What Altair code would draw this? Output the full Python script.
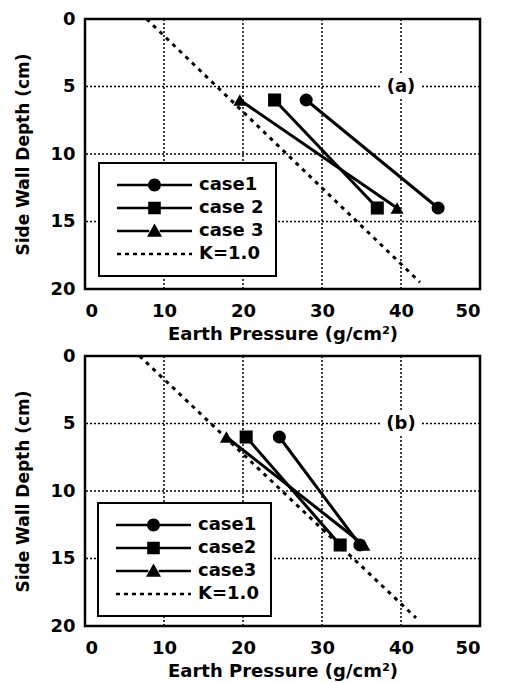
import altair as alt
import pandas as pd

# ---------------- data ----------------
depth_pts = [6, 14]

a_labels = ["case1", "case 2", "case 3"]
a_case1 = [28.0, 44.7]
a_case2 = [24.0, 37.0]
a_case3 = [19.6, 39.5]
a_k_pressure = [7.8, 42.4]
a_k_depth = [0, 19.5]

b_labels = ["case1", "case2", "case3"]
b_case1 = [24.6, 34.8]
b_case2 = [20.4, 32.3]
b_case3 = [17.9, 35.3]
b_k_pressure = [6.9, 41.9]
b_k_depth = [0, 19.4]

k_label = "K=1.0"
x_ticks = [0, 10, 20, 30, 40, 50]
y_ticks = [0, 5, 10, 15, 20]
tag_pos = (40, 5)

FONT = "DejaVu Sans"

# ---------------- legend symbol paths (line + marker) ----------------
W = 37.5  # half width of legend symbol in px


def u(v):
    return v / W


def rect(x0, x1, y0, y1):
    return f"M{x0:.4f},{y0:.4f}H{x1:.4f}V{y1:.4f}H{x0:.4f}Z"


h = u(1.3)
r = u(6.5)
line_path = rect(-1, -r * 0.8, -h, h) + rect(r * 0.8, 1, -h, h)
k = 0.5523 * r
circle_path = (f"M{r:.4f},0C{r:.4f},{k:.4f} {k:.4f},{r:.4f} 0,{r:.4f}"
               f"C{-k:.4f},{r:.4f} {-r:.4f},{k:.4f} {-r:.4f},0"
               f"C{-r:.4f},{-k:.4f} {-k:.4f},{-r:.4f} 0,{-r:.4f}"
               f"C{k:.4f},{-r:.4f} {r:.4f},{-k:.4f} {r:.4f},0Z")
s = u(6.3)
square_path = rect(-s, s, -s, s)
t = u(7.5)
tri_path = f"M0,{-t:.4f}L{t:.4f},{0.75 * t:.4f}L{-t:.4f},{0.75 * t:.4f}Z"
dash_path = ""
xs = -W
while xs < W - 0.5:
    dash_path += rect(u(xs), u(min(xs + 4, W)), -h, h)
    xs += 8

legend_paths = [line_path + circle_path, line_path + square_path,
                line_path + tri_path, dash_path]
box_path = "M-1,-0.6H1V0.6H-1Z"


def panel(labels, cases, kp, kd, tag, legend_x, legend_y):
    rows = []
    for lab, vals in zip(labels, cases):
        for p, d in zip(vals, depth_pts):
            rows.append({"series": lab, "pressure": p, "depth": d})
    df = pd.DataFrame(rows)
    kdf = pd.DataFrame({"series": [k_label] * len(kp), "pressure": kp, "depth": kd})
    alldf = pd.concat([df, kdf], ignore_index=True)
    tagdf = pd.DataFrame({"t": [tag], "pressure": [tag_pos[0]], "depth": [tag_pos[1]]})
    gx = pd.DataFrame({"pressure": x_ticks[1:-1]})
    gy = pd.DataFrame({"depth": y_ticks[1:-1]})

    ax_kw = dict(grid=False, domain=False, ticks=False)
    xs_ = alt.Scale(domain=[0, 50], nice=False)
    ys_ = alt.Scale(domain=[0, 20], reverse=True, nice=False)
    x = alt.X("pressure:Q", scale=xs_,
              axis=alt.Axis(values=x_ticks, title="Earth Pressure (g/cm²)",
                            labelPadding=13, titlePadding=5, **ax_kw))
    y = alt.Y("depth:Q", scale=ys_,
              axis=alt.Axis(values=y_ticks, title="Side Wall Depth (cm)",
                            titleFontSize=17, labelPadding=10, titlePadding=17,
                            **ax_kw))

    grid_x = alt.Chart(gx).mark_rule(color="black", strokeWidth=1.5,
                                     strokeDash=[2, 2]).encode(x=x)
    grid_y = alt.Chart(gy).mark_rule(color="black", strokeWidth=1.5,
                                     strokeDash=[2, 2]).encode(y=y)
    box = alt.Chart(tagdf).mark_point(shape=box_path, filled=True, color="white",
                                      size=1600, opacity=1, strokeWidth=0).encode(x=x, y=y)
    kline = alt.Chart(kdf).mark_line(color="black", strokeWidth=3,
                                     strokeDash=[4, 5]).encode(x=x, y=y)
    lines = alt.Chart(df).mark_line(color="black", strokeWidth=3).encode(
        x=x, y=y, detail="series:N")
    pts = alt.Chart(df).mark_point(filled=True, color="black", opacity=1, size=170).encode(
        x=x, y=y,
        shape=alt.Shape("series:N", legend=None,
                        scale=alt.Scale(domain=labels,
                                        range=["circle", "square", "triangle-up"])))
    leg = alt.Chart(alldf).mark_point(filled=True, color="black").encode(
        x=x, y=y, opacity=alt.value(0),
        shape=alt.Shape("series:N",
                        scale=alt.Scale(domain=labels + [k_label], range=legend_paths),
                        legend=alt.Legend(orient="none", legendX=legend_x, legendY=legend_y,
                                          direction="vertical", title=None, padding=12,
                                          strokeColor="black", fillColor="white",
                                          symbolSize=W * W * 4, symbolFillColor="black",
                                          symbolStrokeWidth=0, symbolOpacity=1,
                                          labelFont=FONT, labelFontSize=18,
                                          labelFontWeight="bold",
                                          labelColor="black", clipHeight=20,
                                          rowPadding=3, symbolOffset=6, labelOffset=7)))
    txt = alt.Chart(tagdf).mark_text(font=FONT, fontSize=18, fontWeight="bold",
                                     color="black").encode(x=x, y=y, text="t:N")
    return alt.layer(grid_x, grid_y, box, kline, lines, pts, leg, txt).resolve_scale(
        shape="independent").properties(width=395, height=270)


pa = panel(a_labels, [a_case1, a_case2, a_case3], a_k_pressure, a_k_depth, "(a)", 14, 144)
pb = panel(b_labels, [b_case1, b_case2, b_case3], b_k_pressure, b_k_depth, "(b)", 13, 147)

chart = alt.vconcat(pa, pb, spacing=0).properties(
    padding={"left": 5, "top": 0, "right": 0, "bottom": 0}
).configure_view(stroke="black", strokeWidth=2.5).configure_axis(
    labelFont=FONT, labelFontSize=18, labelFontWeight="bold", labelColor="black",
    titleFont=FONT, titleFontSize=18, titleFontWeight="bold", titleColor="black"
).configure_legend(strokeWidth=2)

chart.save("out.html", embed_options={"renderer": "svg", "actions": False})
